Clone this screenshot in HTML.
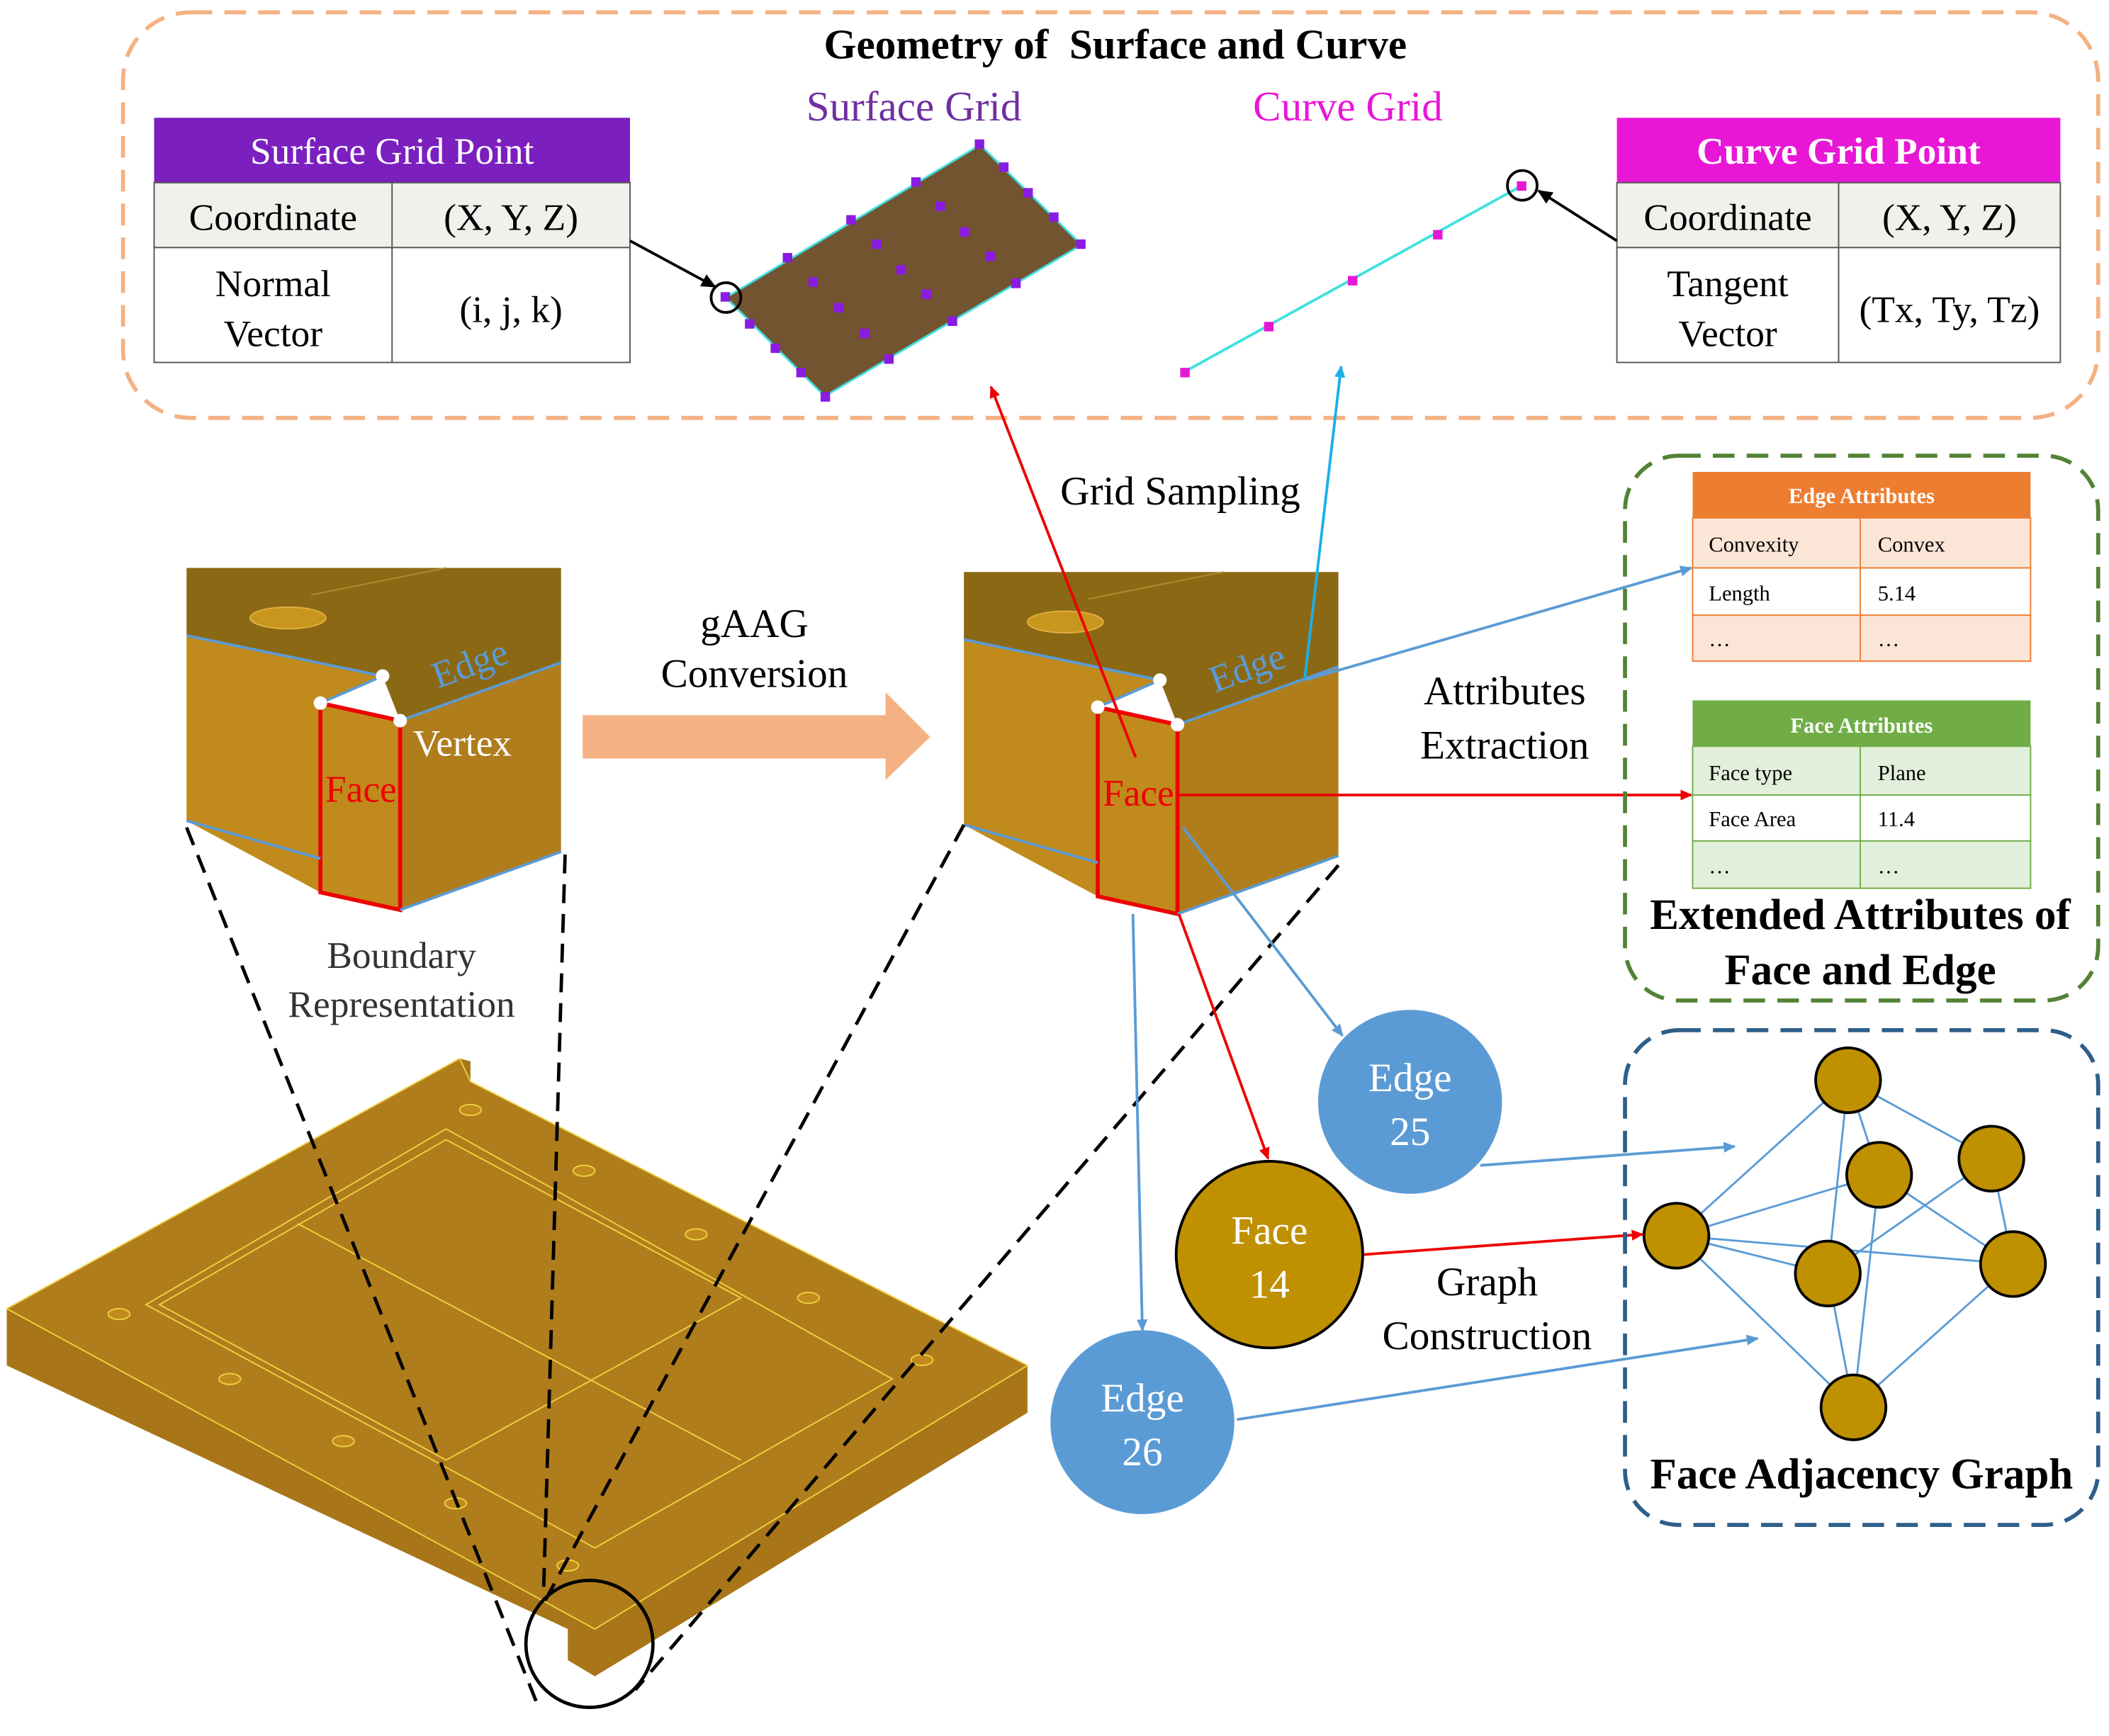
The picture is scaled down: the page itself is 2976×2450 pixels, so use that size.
<!DOCTYPE html>
<html><head><meta charset="utf-8"><style>html,body{margin:0;padding:0;background:#fff}svg{display:block}</style></head>
<body>
<svg xmlns="http://www.w3.org/2000/svg" width="2976" height="2450" viewBox="0 0 1560 1284" font-family="Liberation Serif, serif">
<defs>
<marker id="ar" markerWidth="10" markerHeight="10" refX="8" refY="5" orient="auto" markerUnits="userSpaceOnUse"><path d="M0,1 L9,5 L0,9 z" fill="#e00"/></marker>
<marker id="ab" markerWidth="10" markerHeight="10" refX="8" refY="5" orient="auto" markerUnits="userSpaceOnUse"><path d="M0,1 L9,5 L0,9 z" fill="#5b9bd5"/></marker>
<marker id="ac" markerWidth="10" markerHeight="10" refX="8" refY="5" orient="auto" markerUnits="userSpaceOnUse"><path d="M0,1 L9,5 L0,9 z" fill="#1ab0e8"/></marker>
<marker id="ak" markerWidth="12" markerHeight="12" refX="10" refY="6" orient="auto" markerUnits="userSpaceOnUse"><path d="M0,1 L11,6 L0,11 z" fill="#000"/></marker>
</defs>
<rect width="1560" height="1284" fill="#fff"/>

<rect x="91" y="9" width="1461" height="300" rx="50" fill="none" stroke="#f4b183" stroke-width="3" stroke-dasharray="16,9"/>
<text x="825" y="43" font-size="31" font-weight="bold" text-anchor="middle">Geometry of &#160;Surface and Curve</text>
<text x="676" y="89" font-size="31" fill="#7030a0" text-anchor="middle">Surface Grid</text>
<text x="997" y="89" font-size="31" fill="#e817d6" text-anchor="middle">Curve Grid</text>

<rect x="114" y="87" width="352" height="48" fill="#7b1fbf"/>
<text x="290" y="121" font-size="28" fill="#fff" text-anchor="middle">Surface Grid Point</text>
<rect x="114" y="135" width="352" height="48" fill="#eef1ec" stroke="#555"/>
<rect x="114" y="183" width="352" height="85" fill="#fff" stroke="#555"/>
<line x1="290" y1="135" x2="290" y2="268" stroke="#555"/>
<text x="202" y="170" font-size="28" text-anchor="middle">Coordinate</text>
<text x="378" y="170" font-size="28" text-anchor="middle">(X, Y, Z)</text>
<text x="202" y="219" font-size="28" text-anchor="middle">Normal</text>
<text x="202" y="256" font-size="28" text-anchor="middle">Vector</text>
<text x="378" y="238" font-size="28" text-anchor="middle">(i, j, k)</text>

<rect x="1196" y="87" width="328" height="48" fill="#e817d6"/>
<text x="1360" y="121" font-size="28" font-weight="bold" fill="#fff" text-anchor="middle">Curve Grid Point</text>
<rect x="1196" y="135" width="328" height="48" fill="#eef1ec" stroke="#555"/>
<rect x="1196" y="183" width="328" height="85" fill="#fff" stroke="#555"/>
<line x1="1360" y1="135" x2="1360" y2="268" stroke="#555"/>
<text x="1278" y="170" font-size="28" text-anchor="middle">Coordinate</text>
<text x="1442" y="170" font-size="28" text-anchor="middle">(X, Y, Z)</text>
<text x="1278" y="219" font-size="28" text-anchor="middle">Tangent</text>
<text x="1278" y="256" font-size="28" text-anchor="middle">Vector</text>
<text x="1442" y="238" font-size="28" text-anchor="middle">(Tx, Ty, Tz)</text>

<polygon points="537,220 725,107 800,181 610,293" fill="#735431" stroke="#40e0e0" stroke-width="1.5"/>
<g fill="#8a1be0">
<rect x="533" y="216" width="7" height="7"/><rect x="551" y="236" width="7" height="7"/><rect x="570" y="254" width="7" height="7"/><rect x="589" y="272" width="7" height="7"/><rect x="607" y="290" width="7" height="7"/>
<rect x="579" y="187" width="7" height="7"/><rect x="626" y="159" width="7" height="7"/><rect x="674" y="131" width="7" height="7"/><rect x="721" y="103" width="7" height="7"/>
<rect x="739" y="120" width="7" height="7"/><rect x="757" y="139" width="7" height="7"/><rect x="776" y="157" width="7" height="7"/><rect x="796" y="177" width="7" height="7"/>
<rect x="654" y="262" width="7" height="7"/><rect x="701" y="234" width="7" height="7"/><rect x="748" y="206" width="7" height="7"/>
<rect x="598" y="205" width="7" height="7"/><rect x="645" y="177" width="7" height="7"/><rect x="692" y="149" width="7" height="7"/>
<rect x="617" y="224" width="7" height="7"/><rect x="663" y="196" width="7" height="7"/><rect x="710" y="168" width="7" height="7"/>
<rect x="636" y="243" width="7" height="7"/><rect x="682" y="214" width="7" height="7"/><rect x="729" y="186" width="7" height="7"/>
</g>
<circle cx="537" cy="220" r="11" fill="none" stroke="#000" stroke-width="2"/>
<line x1="466" y1="178" x2="529" y2="212" stroke="#000" stroke-width="2" marker-end="url(#ak)"/>

<line x1="876" y1="275" x2="1126" y2="137" stroke="#40e0e0" stroke-width="2"/>
<g fill="#e817d6"><rect x="873" y="272" width="7" height="7"/><rect x="935" y="238" width="7" height="7"/><rect x="997" y="204" width="7" height="7"/><rect x="1060" y="170" width="7" height="7"/><rect x="1122" y="134" width="7" height="7"/></g>
<circle cx="1126" cy="137" r="11" fill="none" stroke="#000" stroke-width="2"/>
<line x1="1196" y1="178" x2="1138" y2="141" stroke="#000" stroke-width="2" marker-end="url(#ak)"/>

<g>
<polygon points="138,420 415,420 415,490 296,533 283,500 138,470" fill="#8b6914"/>
<line x1="230" y1="440" x2="330" y2="420" stroke="#b08a30" stroke-width="1"/>
<ellipse cx="213" cy="457" rx="28" ry="8" fill="#c8961e" stroke="#e0b040"/>
<polygon points="138,470 283,500 237,520 237,660 138,607" fill="#c08a1c"/>
<polygon points="296,533 415,490 415,630 296,673" fill="#b07d1c"/>
<polygon points="237,520 296,533 296,673 237,660" fill="#c08a1c" stroke="#e00" stroke-width="3"/>
<polyline points="138,470 283,500" fill="none" stroke="#5b9bd5" stroke-width="2"/>
<line x1="296" y1="533" x2="415" y2="490" stroke="#5b9bd5" stroke-width="2"/>
<line x1="138" y1="607" x2="237" y2="635" stroke="#5b9bd5" stroke-width="2"/>
<line x1="296" y1="673" x2="415" y2="630" stroke="#5b9bd5" stroke-width="2"/>
<line x1="237" y1="520" x2="283" y2="500" stroke="#5b9bd5" stroke-width="2"/>
<circle cx="283" cy="500" r="5" fill="#fff"/><circle cx="237" cy="520" r="5" fill="#fff"/><circle cx="296" cy="533" r="5" fill="#fff"/>
<text x="348" y="500" font-size="28" fill="#5b9bd5" text-anchor="middle" transform="rotate(-20 348 492)">Edge</text>
<text x="342" y="559" font-size="28" fill="#fff" text-anchor="middle">Vertex</text>
<text x="267" y="593" font-size="28" fill="#e00" text-anchor="middle">Face</text>
</g>
<text x="297" y="716" font-size="28" fill="#333" text-anchor="middle">Boundary</text>
<text x="297" y="752" font-size="28" fill="#333" text-anchor="middle">Representation</text>

<polygon points="431,529 655,529 655,512 688,545 655,577 655,561 431,561" fill="#f4b183"/>
<text x="558" y="471" font-size="30" text-anchor="middle">gAAG</text>
<text x="558" y="508" font-size="30" text-anchor="middle">Conversion</text>

<g transform="translate(575,3)">
<polygon points="138,420 415,420 415,490 296,533 283,500 138,470" fill="#8b6914"/>
<line x1="230" y1="440" x2="330" y2="420" stroke="#b08a30" stroke-width="1"/>
<ellipse cx="213" cy="457" rx="28" ry="8" fill="#c8961e" stroke="#e0b040"/>
<polygon points="138,470 283,500 237,520 237,660 138,607" fill="#c08a1c"/>
<polygon points="296,533 415,490 415,630 296,673" fill="#b07d1c"/>
<polygon points="237,520 296,533 296,673 237,660" fill="#c08a1c" stroke="#e00" stroke-width="3"/>
<line x1="138" y1="470" x2="283" y2="500" stroke="#5b9bd5" stroke-width="2"/>
<line x1="296" y1="533" x2="415" y2="490" stroke="#5b9bd5" stroke-width="2"/>
<line x1="138" y1="607" x2="237" y2="635" stroke="#5b9bd5" stroke-width="2"/>
<line x1="296" y1="673" x2="415" y2="630" stroke="#5b9bd5" stroke-width="2"/>
<line x1="237" y1="520" x2="283" y2="500" stroke="#5b9bd5" stroke-width="2"/>
<circle cx="283" cy="500" r="5" fill="#fff"/><circle cx="237" cy="520" r="5" fill="#fff"/><circle cx="296" cy="533" r="5" fill="#fff"/>
<text x="348" y="500" font-size="28" fill="#5b9bd5" text-anchor="middle" transform="rotate(-20 348 492)">Edge</text>
<text x="267" y="593" font-size="28" fill="#e00" text-anchor="middle">Face</text>
</g>

<polygon points="5,968 340,783 348,785 348,800 760,1010 760,1045 440,1240 420,1228 420,1205 5,1010" fill="#a87618"/>
<polygon points="5,968 340,783 348,800 760,1010 440,1205 5,968" fill="#b07d1c" stroke="#f0d040" stroke-width="1"/>
<polygon points="108,965 330,835 660,1020 440,1145" fill="none" stroke="#f0d040" stroke-width="1"/>
<polygon points="118,965 330,843 548,960 330,1080" fill="none" stroke="#f0d040" stroke-width="1"/>
<line x1="220" y1="905" x2="548" y2="1080" stroke="#f0d040"/>
<g fill="#c08a1c" stroke="#f0d040"><ellipse cx="348" cy="821" rx="8" ry="4"/><ellipse cx="432" cy="866" rx="8" ry="4"/><ellipse cx="515" cy="913" rx="8" ry="4"/><ellipse cx="598" cy="960" rx="8" ry="4"/><ellipse cx="682" cy="1006" rx="8" ry="4"/><ellipse cx="88" cy="972" rx="8" ry="4"/><ellipse cx="170" cy="1020" rx="8" ry="4"/><ellipse cx="254" cy="1066" rx="8" ry="4"/><ellipse cx="337" cy="1112" rx="8" ry="4"/><ellipse cx="420" cy="1158" rx="8" ry="4"/></g>
<circle cx="436" cy="1216" r="47" fill="none" stroke="#000" stroke-width="2.5"/>

<g stroke="#000" stroke-width="2.5" stroke-dasharray="14,8" fill="none">
<line x1="138" y1="612" x2="398" y2="1262"/>
<line x1="418" y1="632" x2="402" y2="1180"/>
<line x1="713" y1="610" x2="400" y2="1190"/>
<line x1="990" y1="640" x2="470" y2="1250"/>
</g>

<line x1="840" y1="560" x2="733" y2="286" stroke="#e00" stroke-width="2" marker-end="url(#ar)"/>
<line x1="965" y1="503" x2="992" y2="271" stroke="#1ab0e8" stroke-width="2" marker-end="url(#ac)"/>
<line x1="965" y1="503" x2="1251" y2="420" stroke="#5b9bd5" stroke-width="2" marker-end="url(#ab)"/>
<line x1="872" y1="588" x2="1251" y2="588" stroke="#e00" stroke-width="2" marker-end="url(#ar)"/>
<line x1="875" y1="612" x2="993" y2="766" stroke="#5b9bd5" stroke-width="2" marker-end="url(#ab)"/>
<line x1="872" y1="676" x2="938" y2="857" stroke="#e00" stroke-width="2" marker-end="url(#ar)"/>
<line x1="838" y1="676" x2="845" y2="984" stroke="#5b9bd5" stroke-width="2" marker-end="url(#ab)"/>
<line x1="1095" y1="862" x2="1283" y2="848" stroke="#5b9bd5" stroke-width="2" marker-end="url(#ab)"/>
<line x1="915" y1="1050" x2="1300" y2="990" stroke="#5b9bd5" stroke-width="2" marker-end="url(#ab)"/>
<line x1="1008" y1="928" x2="1215" y2="913" stroke="#e00" stroke-width="2" marker-end="url(#ar)"/>

<text x="873" y="373" font-size="30" text-anchor="middle">Grid Sampling</text>
<text x="1113" y="521" font-size="30" text-anchor="middle">Attributes</text>
<text x="1113" y="561" font-size="30" text-anchor="middle">Extraction</text>
<text x="1100" y="958" font-size="30" text-anchor="middle">Graph</text>
<text x="1100" y="998" font-size="30" text-anchor="middle">Construction</text>

<circle cx="1043" cy="815" r="68" fill="#5b9bd5"/>
<text x="1043" y="807" font-size="30" fill="#fff" text-anchor="middle">Edge</text>
<text x="1043" y="847" font-size="30" fill="#fff" text-anchor="middle">25</text>
<circle cx="939" cy="928" r="69" fill="#bf9000" stroke="#000" stroke-width="2"/>
<text x="939" y="920" font-size="30" fill="#fff" text-anchor="middle">Face</text>
<text x="939" y="960" font-size="30" fill="#fff" text-anchor="middle">14</text>
<circle cx="845" cy="1052" r="68" fill="#5b9bd5"/>
<text x="845" y="1044" font-size="30" fill="#fff" text-anchor="middle">Edge</text>
<text x="845" y="1084" font-size="30" fill="#fff" text-anchor="middle">26</text>

<rect x="1202" y="337" width="350" height="403" rx="40" fill="none" stroke="#548235" stroke-width="3" stroke-dasharray="16,9"/>
<g font-size="16">
<rect x="1252" y="349" width="250" height="34" fill="#ed7d31"/>
<text x="1377" y="372" fill="#fff" font-weight="bold" text-anchor="middle">Edge Attributes</text>
<rect x="1252" y="383" width="250" height="37" fill="#fbe5d6" stroke="#ed7d31"/>
<rect x="1252" y="420" width="250" height="35" fill="#fff" stroke="#ed7d31"/>
<rect x="1252" y="455" width="250" height="34" fill="#fbe5d6" stroke="#ed7d31"/>
<line x1="1376" y1="383" x2="1376" y2="489" stroke="#ed7d31"/>
<text x="1264" y="408">Convexity</text><text x="1389" y="408">Convex</text>
<text x="1264" y="444">Length</text><text x="1389" y="444">5.14</text>
<text x="1264" y="478">…</text><text x="1389" y="478">…</text>
<rect x="1252" y="518" width="250" height="34" fill="#70ad47"/>
<text x="1377" y="542" fill="#fff" font-weight="bold" text-anchor="middle">Face Attributes</text>
<rect x="1252" y="552" width="250" height="36" fill="#e2efda" stroke="#70ad47"/>
<rect x="1252" y="588" width="250" height="34" fill="#fff" stroke="#70ad47"/>
<rect x="1252" y="622" width="250" height="35" fill="#e2efda" stroke="#70ad47"/>
<line x1="1376" y1="552" x2="1376" y2="657" stroke="#70ad47"/>
<text x="1264" y="577">Face type</text><text x="1389" y="577">Plane</text>
<text x="1264" y="611">Face Area</text><text x="1389" y="611">11.4</text>
<text x="1264" y="646">…</text><text x="1389" y="646">…</text>
</g>
<text x="1376" y="687" font-size="32" font-weight="bold" text-anchor="middle">Extended Attributes of</text>
<text x="1376" y="728" font-size="32" font-weight="bold" text-anchor="middle">Face and Edge</text>

<rect x="1202" y="762" width="350" height="366" rx="40" fill="none" stroke="#2e5f8a" stroke-width="3" stroke-dasharray="16,9"/>
<g stroke="#5b9bd5" stroke-width="1.5">
<line x1="1367" y1="799" x2="1240" y2="914"/><line x1="1367" y1="799" x2="1352" y2="942"/><line x1="1367" y1="799" x2="1390" y2="869"/><line x1="1367" y1="799" x2="1473" y2="857"/>
<line x1="1240" y1="914" x2="1390" y2="869"/><line x1="1240" y1="914" x2="1352" y2="942"/><line x1="1240" y1="914" x2="1371" y2="1041"/><line x1="1240" y1="914" x2="1489" y2="935"/>
<line x1="1390" y1="869" x2="1489" y2="935"/><line x1="1390" y1="869" x2="1371" y2="1041"/><line x1="1473" y1="857" x2="1352" y2="942"/><line x1="1473" y1="857" x2="1489" y2="935"/>
<line x1="1352" y1="942" x2="1371" y2="1041"/><line x1="1489" y1="935" x2="1371" y2="1041"/>
</g>
<g fill="#bf9000" stroke="#000" stroke-width="2">
<circle cx="1367" cy="799" r="24"/><circle cx="1390" cy="869" r="24"/><circle cx="1473" cy="857" r="24"/><circle cx="1240" cy="914" r="24"/><circle cx="1352" cy="942" r="24"/><circle cx="1489" cy="935" r="24"/><circle cx="1371" cy="1041" r="24"/>
</g>
<text x="1377" y="1101" font-size="32" font-weight="bold" text-anchor="middle">Face Adjacency Graph</text>
</svg>
</body></html>
